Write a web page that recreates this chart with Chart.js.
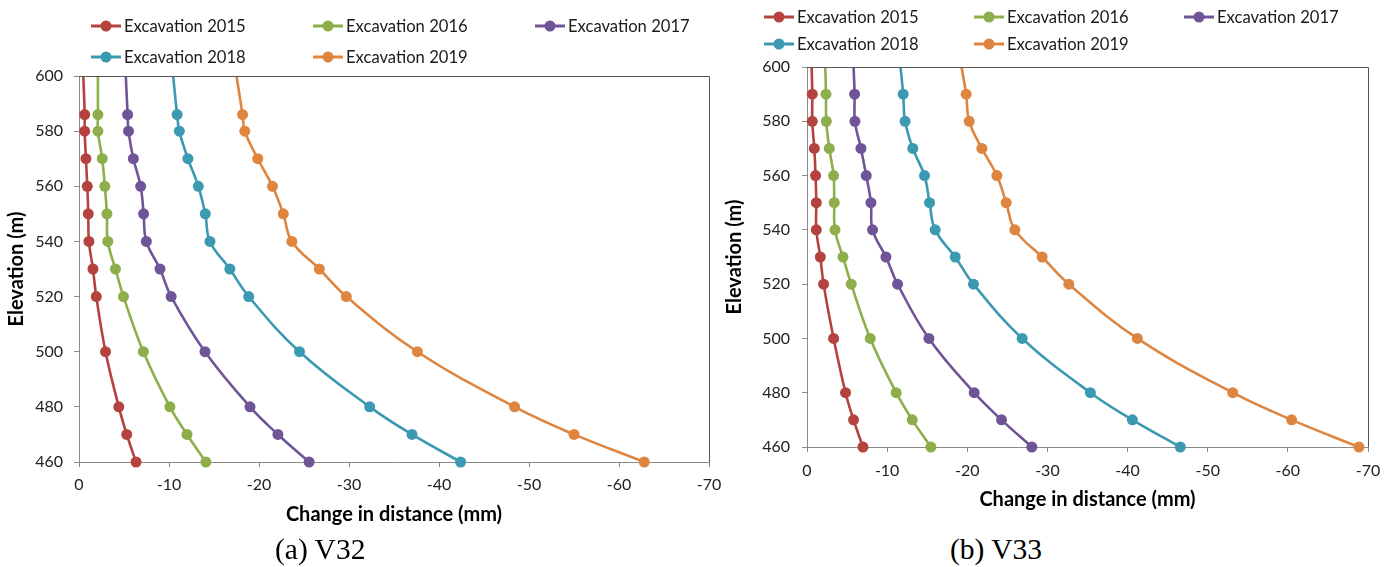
<!DOCTYPE html>
<html>
<head>
<meta charset="utf-8">
<script src="https://cdn.jsdelivr.net/npm/chart.js@4.4.1/dist/chart.umd.min.js"></script>
<style>
  html, body { margin: 0; padding: 0; background: #ffffff; }
  body { width: 1392px; height: 567px; position: relative; overflow: hidden; }
  canvas { position: absolute; top: 0; }
  #chartA { left: 0; }
  #chartB { left: 720px; }
  .caption {
    position: absolute; top: 533px; font-family: "Liberation Serif", "DejaVu Serif", serif;
    font-size: 29.5px; line-height: 32px; color: #000; white-space: nowrap;
  }
</style>
</head>
<body>
<canvas id="chartA" width="740" height="540" style="width:740px;height:540px"></canvas>
<canvas id="chartB" width="672" height="520" style="width:672px;height:520px"></canvas>
<div class="caption" id="capA" style="left:275px">(a) V32</div>
<div class="caption" id="capB" style="left:950px">(b) V33</div>
<script>
// Series names and colours
const seriesNames = ['Excavation 2015', 'Excavation 2016', 'Excavation 2017', 'Excavation 2018', 'Excavation 2019'];
const seriesColors = ['#B4433F', '#8DAE4A', '#6F5597', '#3C99B2', '#DE8540'];

// Axis ticks
const elevationTicks = [460, 480, 500, 520, 540, 560, 580, 600];
const distanceTicks = [0, -10, -20, -30, -40, -50, -60, -70];

// V32: measurement elevations (m), first entry is the top of the profile (no marker)
const elevV32 = [600, 586, 580, 570, 560, 550, 540, 530, 520, 500, 480, 470, 460];
// V32: change in distance (mm)
const v32_2015 = [-0.48, -0.63, -0.63, -0.77, -0.92, -1.03, -1.10, -1.55, -1.92, -2.95, -4.42, -5.30, -6.34];
const v32_2016 = [-2.10, -2.10, -2.10, -2.58, -2.87, -3.10, -3.20, -4.05, -4.94, -7.15, -10.10, -12.00, -14.10];
const v32_2017 = [-5.20, -5.40, -5.50, -6.04, -6.85, -7.18, -7.48, -9.00, -10.24, -14.00, -19.00, -22.10, -25.57];
const v32_2018 = [-10.46, -10.90, -11.15, -12.10, -13.26, -14.03, -14.55, -16.76, -18.86, -24.50, -32.30, -37.00, -42.40];
const v32_2019 = [-17.50, -18.17, -18.42, -19.86, -21.50, -22.70, -23.65, -26.70, -29.70, -37.60, -48.40, -55.00, -62.80];

// V33: measurement elevations (m)
const elevV33 = [600, 590, 580, 570, 560, 550, 540, 530, 520, 500, 480, 470, 460];
// V33: change in distance (mm)
const v33_2015 = [-0.58, -0.66, -0.66, -0.91, -1.07, -1.16, -1.16, -1.66, -2.07, -3.32, -4.81, -5.81, -6.98];
const v33_2016 = [-2.28, -2.37, -2.41, -2.78, -3.32, -3.40, -3.49, -4.49, -5.52, -7.89, -11.13, -13.13, -15.46];
const v33_2017 = [-5.81, -5.94, -5.98, -6.73, -7.39, -7.98, -8.18, -9.85, -11.30, -15.21, -20.86, -24.27, -28.05];
const v33_2018 = [-11.67, -12.00, -12.24, -13.20, -14.66, -15.29, -16.00, -18.49, -20.77, -26.85, -35.36, -40.60, -46.58];
const v33_2019 = [-19.28, -19.86, -20.24, -21.82, -23.69, -24.85, -25.94, -29.34, -32.67, -41.22, -53.12, -60.47, -68.87];

const FONT = 'Lato, "Open Sans", "Liberation Sans", sans-serif';

function buildDatasets(elev, seriesList) {
  return seriesList.map((vals, i) => ({
    label: seriesNames[i],
    data: vals.map((v, k) => ({ x: v, y: elev[k] })),
    borderColor: seriesColors[i],
    backgroundColor: seriesColors[i],
    borderWidth: 2.6,
    pointRadius: elev.map((e, k) => (k === 0 ? 0 : 5.5)),
    pointHoverRadius: 5.5,
    pointBorderWidth: 0,
    tension: 0.4,
    showLine: true,
    clip: false
  }));
}

// Legend laid out in a fixed grid above the plot
const gridLegend = {
  id: 'gridLegend',
  afterDraw(chart, args, opts) {
    const ctx = chart.ctx;
    ctx.save();
    ctx.font = '16.6px ' + FONT;
    ctx.textBaseline = 'middle';
    ctx.textAlign = 'left';
    chart.data.datasets.forEach((ds, i) => {
      const col = i % 3, row = Math.floor(i / 3);
      const cx = opts.x0 + col * opts.dx;
      const cy = opts.rows[row];
      ctx.strokeStyle = ds.borderColor;
      ctx.lineWidth = 3;
      ctx.beginPath();
      ctx.moveTo(cx - 15, cy);
      ctx.lineTo(cx + 15, cy);
      ctx.stroke();
      ctx.fillStyle = ds.borderColor;
      ctx.beginPath();
      ctx.arc(cx, cy, 5.5, 0, Math.PI * 2);
      ctx.fill();
      ctx.fillStyle = '#1a1a1a';
      ctx.fillText(ds.label, cx + 18, cy + 1);
    });
    ctx.restore();
  }
};

// Plot frame: darker top and right edges
const plotFrame = {
  id: 'plotFrame',
  afterDraw(chart) {
    const { left, right, top, bottom } = chart.chartArea;
    const ctx = chart.ctx;
    ctx.save();
    ctx.strokeStyle = '#555555';
    ctx.lineWidth = 1;
    ctx.beginPath();
    ctx.moveTo(left, top + 0.5);
    ctx.lineTo(right + 0.5, top + 0.5);
    ctx.lineTo(right + 0.5, bottom);
    ctx.stroke();
    ctx.restore();
  }
};

function makeChart(canvasId, elev, seriesList, geom) {
  return new Chart(document.getElementById(canvasId), {
    type: 'scatter',
    data: { datasets: buildDatasets(elev, seriesList) },
    plugins: [gridLegend, plotFrame],
    options: {
      responsive: false,
      animation: false,
      events: [],
      layout: { padding: { top: geom.top, left: 0, right: geom.right, bottom: 0 } },
      plugins: {
        legend: { display: false },
        tooltip: { enabled: false },
        gridLegend: geom.legend
      },
      scales: {
        x: {
          type: 'linear',
          reverse: true,
          min: distanceTicks[distanceTicks.length - 1],
          max: distanceTicks[0],
          afterBuildTicks: (s) => { s.ticks = distanceTicks.map(v => ({ value: v })); },
          afterFit: (s) => { s.height = geom.xHeight; },
          border: { display: true, color: '#8a8a8a', width: 1 },
          grid: { drawOnChartArea: false, drawTicks: true, tickLength: 5, color: '#8a8a8a' },
          ticks: { font: { family: FONT, size: 16 }, color: '#222222', padding: geom.xTickPad, maxRotation: 0 },
          title: {
            display: true, text: 'Change in distance (mm)', color: '#000000',
            font: { family: FONT, size: 20, weight: 'bold' },
            padding: { top: 0, bottom: geom.xTitlePad }
          }
        },
        y: {
          type: 'linear',
          min: elevationTicks[0],
          max: elevationTicks[elevationTicks.length - 1],
          afterBuildTicks: (s) => { s.ticks = elevationTicks.map(v => ({ value: v })); },
          afterFit: (s) => { s.width = geom.yWidth; },
          border: { display: true, color: '#8a8a8a', width: 1 },
          grid: { drawOnChartArea: false, drawTicks: true, tickLength: 5, color: '#8a8a8a' },
          ticks: { font: { family: FONT, size: 16 }, color: '#222222', padding: geom.yTickPad },
          title: {
            display: true, text: 'Elevation (m)', color: '#000000',
            font: { family: FONT, size: 20, weight: 'bold' },
            padding: { top: geom.yTitlePad, bottom: 0 }
          }
        }
      }
    }
  });
}

makeChart('chartA', elevV32, [v32_2015, v32_2016, v32_2017, v32_2018, v32_2019], {
  top: 76, right: 31, yWidth: 79, xHeight: 78,
  xTickPad: 8, xTitlePad: 13, yTickPad: 11, yTitlePad: 5,
  legend: { x0: 106, dx: 222, rows: [26, 57] }
});

makeChart('chartB', elevV33, [v33_2015, v33_2016, v33_2017, v33_2018, v33_2019], {
  top: 67, right: 24, yWidth: 87, xHeight: 73,
  xTickPad: 9, xTitlePad: 8, yTickPad: 12, yTitlePad: 3,
  legend: { x0: 779 - 720, dx: 210, rows: [17, 44] }
});
</script>
</body>
</html>
